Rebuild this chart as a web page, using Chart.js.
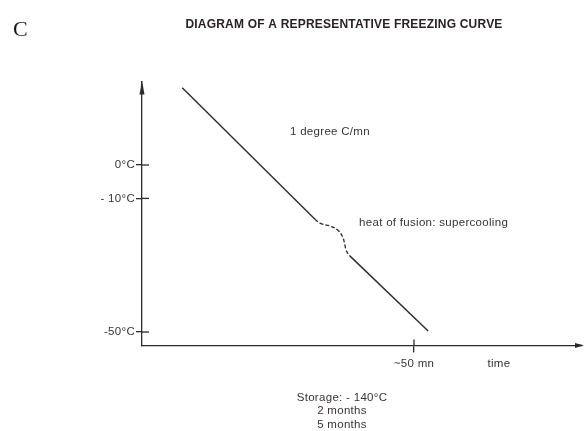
<!DOCTYPE html>
<html>
<head>
<meta charset="utf-8">
<script src="https://cdn.jsdelivr.net/npm/chart.js@4/dist/chart.umd.min.js"></script>
<style>
  html, body { margin: 0; padding: 0; background: #ffffff; }
  #wrap { width: 584px; height: 431px; position: relative; }
</style>
</head>
<body>
<div id="wrap"><canvas id="c" width="584" height="431"></canvas></div>
<script>
// ---- data ----
const panelLetter = 'C';
const chartTitle = 'DIAGRAM OF A REPRESENTATIVE FREEZING CURVE';
const tempTicks = [0, -10, -50];
const tempTickLabels = ['0°C', '- 10°C', '-50°C'];
const timeTicks = [50, 65.6];
const timeTickLabels = ['~50 mn', 'time'];
const timeTickMarked = [true, false];

// cooling before freezing (solid)
const coolTime = [7.4, 31.8];
const coolTemp = [23.1, -16.2];
// heat of fusion / supercooling (dashed)
const fusionTime = [31.8, 32.7, 34.6, 36.0, 36.9, 37.3, 37.5, 37.9, 38.2];
const fusionTemp = [-16.2, -17.4, -18.3, -19.5, -21.6, -24.0, -25.4, -26.6, -27.2];
// cooling after freezing (solid)
const afterTime = [38.2, 52.6];
const afterTemp = [-27.2, -49.7];

const rateNote = { text: '1 degree C/mn', time: 27.2, temp: 9.9 };
const fusionNote = { text: 'heat of fusion: supercooling', time: 39.9, temp: -17.4 };
const storageLines = ['Storage: - 140°C', '2 months', '5 months'];

const toPts = (xs, ys) => xs.map((x, i) => ({ x: x, y: ys[i] }));

const ink = '#2f2a2a';
const textInk = '#3a3434';
const sans = '"Liberation Sans", Arial, Helvetica, sans-serif';

const spacing = {
  id: 'spacing',
  beforeInit(chart) { chart.ctx.letterSpacing = '0.3px'; },
  beforeUpdate(chart) { chart.ctx.letterSpacing = '0.3px'; },
  beforeDraw(chart) { chart.ctx.letterSpacing = '0.3px'; }
};

const decor = {
  id: 'decor',
  afterDraw(chart) {
    const ctx = chart.ctx;
    const xs = chart.scales.x, ys = chart.scales.y;
    const ca = chart.chartArea;
    ctx.save();
    ctx.strokeStyle = ink;
    ctx.fillStyle = ink;
    ctx.lineWidth = 1.3;
    // inner halves of y ticks
    tempTicks.forEach(v => {
      const py = ys.getPixelForValue(v);
      ctx.beginPath(); ctx.moveTo(ca.left, py); ctx.lineTo(ca.left + 7, py); ctx.stroke();
    });
    // inner halves of x ticks
    timeTicks.forEach((v, i) => {
      if (!timeTickMarked[i]) return;
      const px = xs.getPixelForValue(v);
      ctx.beginPath(); ctx.moveTo(px, ca.bottom); ctx.lineTo(px, ca.bottom - 6); ctx.stroke();
    });
    // x axis extension + arrow
    ctx.beginPath(); ctx.moveTo(ca.right, ca.bottom); ctx.lineTo(582, ca.bottom); ctx.stroke();
    ctx.beginPath();
    ctx.moveTo(584, ca.bottom); ctx.lineTo(575, ca.bottom - 2.5); ctx.lineTo(575, ca.bottom + 2.5);
    ctx.closePath(); ctx.fill();
    // y axis arrow
    ctx.beginPath();
    ctx.moveTo(ca.left, ca.top - 1); ctx.lineTo(ca.left - 2.5, ca.top + 13); ctx.lineTo(ca.left + 2.5, ca.top + 13);
    ctx.closePath(); ctx.fill();

    // texts
    ctx.letterSpacing = '0.3px';
    ctx.fillStyle = textInk;
    ctx.textBaseline = 'middle';
    ctx.font = '11.5px ' + sans;
    ctx.textAlign = 'left';
    ctx.fillText(rateNote.text, xs.getPixelForValue(rateNote.time), ys.getPixelForValue(rateNote.temp));
    ctx.fillText(fusionNote.text, xs.getPixelForValue(fusionNote.time), ys.getPixelForValue(fusionNote.temp));
    ctx.textAlign = 'center';
    storageLines.forEach((t, i) => ctx.fillText(t, 342, 398 + i * 13.2));

    ctx.letterSpacing = '0.2px';
    ctx.fillStyle = '#2a2222';
    ctx.font = 'bold 12px ' + sans;
    ctx.fillText(chartTitle, 344, 25);
    ctx.letterSpacing = '0px';
    ctx.fillStyle = '#1a1a1a';
    ctx.font = '22px "Liberation Serif", "Times New Roman", serif';
    ctx.textAlign = 'left';
    ctx.fillText(panelLetter, 13, 30);
    ctx.restore();
  }
};

new Chart(document.getElementById('c'), {
  type: 'scatter',
  data: {
    datasets: [
      { data: toPts(coolTime, coolTemp), showLine: true, borderColor: ink, borderWidth: 1.4, pointRadius: 0 },
      { data: toPts(fusionTime, fusionTemp), showLine: true, borderColor: ink, borderWidth: 1.3, borderDash: [4, 2], pointRadius: 0, tension: 0.4 },
      { data: toPts(afterTime, afterTemp), showLine: true, borderColor: ink, borderWidth: 1.4, pointRadius: 0 }
    ]
  },
  options: {
    responsive: false,
    animation: false,
    devicePixelRatio: 1,
    layout: { padding: { top: 81.5, right: 6.8, left: 0, bottom: 0 } },
    plugins: { legend: { display: false }, tooltip: { enabled: false }, title: { display: false } },
    scales: {
      x: {
        type: 'linear', min: 0, max: 80,
        afterFit(s) { s.height = 85.6; },
        afterBuildTicks(s) { s.ticks = timeTicks.map(v => ({ value: v })); },
        border: { display: true, color: ink, width: 1.3 },
        grid: {
          drawOnChartArea: false, drawTicks: true, tickLength: 7,
          color: c => (c.tick && timeTickMarked[timeTicks.indexOf(c.tick.value)]) ? ink : 'rgba(0,0,0,0)',
          lineWidth: 1.3
        },
        ticks: {
          autoSkip: false, maxRotation: 0, padding: 5,
          color: textInk, font: { family: sans, size: 11.5 },
          callback: (v) => timeTickLabels[timeTicks.indexOf(v)]
        }
      },
      y: {
        type: 'linear', min: -54, max: 25,
        afterFit(s) { s.width = 142; },
        afterBuildTicks(s) { s.ticks = tempTicks.map(v => ({ value: v })); },
        border: { display: true, color: ink, width: 1.3 },
        grid: { drawOnChartArea: false, drawTicks: true, tickLength: 6, color: ink, lineWidth: 1.3 },
        ticks: {
          autoSkip: false, padding: 1,
          color: textInk, font: { family: sans, size: 11.5 },
          callback: (v) => tempTickLabels[tempTicks.indexOf(v)]
        }
      }
    }
  },
  plugins: [spacing, decor]
});
</script>
</body>
</html>
